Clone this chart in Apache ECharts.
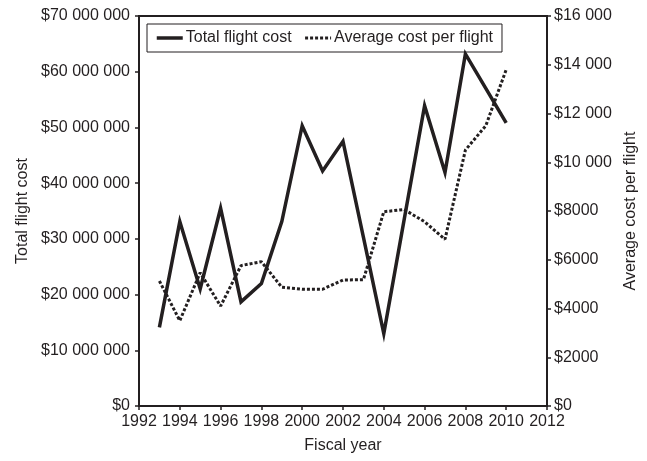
<!DOCTYPE html>
<html>
<head>
<meta charset="utf-8">
<script src="https://cdn.jsdelivr.net/npm/echarts@6/dist/echarts.min.js"></script>
<style>
    html, body { margin: 0; padding: 0; background: #fff; }
    #chart { width: 647px; height: 461px; }
</style>
</head>
<body>
<div id="chart"></div>
<script>
// fiscal years
const years = [1993, 1994, 1995, 1996, 1997, 1998, 1999, 2000, 2001, 2002, 2003, 2004, 2005, 2006, 2007, 2008, 2009, 2010]
// total flight cost, $
const totalCost = [14100000, 33100000, 21000000, 35500000, 18700000, 22000000, 33100000, 50300000, 42200000, 47500000,
    30300000, 13000000, 33500000, 53900000, 41900000, 63200000, 57000000, 50800000]
// average cost per flight, $
const avgCost = [5130, 3500, 5470, 4100, 5760, 5920, 4870, 4790, 4790, 5170, 5180, 7970, 8060, 7560, 6840, 10500, 11500, 13800]

const seriesNames = ['Total flight cost', 'Average cost per flight']

const ink = '#231f20'
const font = 'Liberation Sans, Arial, sans-serif'

const solidLine = { color: ink, width: 3.5, join: 'miter' }
const dottedLine = { color: ink, width: 3, type: [3, 2] }

// $70 000 000 / $16 000 / $8000
function money(v) {
    if (v < 10000) return '$' + v
    return '$' + String(v).replace(/\B(?=(\d{3})+(?!\d))/g, ' ')
}

const chart = echarts.init(document.getElementById('chart'))

const axisCommon = {
    axisLine: { show: true, lineStyle: { color: ink, width: 2 } },
    axisTick: { show: true, length: 4, lineStyle: { color: ink, width: 1.5 } },
    splitLine: { show: false },
    nameTextStyle: { color: ink, fontSize: 16, fontFamily: font },
}

chart.setOption({
    animation: false,
    textStyle: { fontFamily: font },
    grid: {
        left: 139, right: 100, top: 16, bottom: 55,
        show: true, borderColor: ink, borderWidth: 2,
    },
    legend: {
        data: [
            { name: seriesNames[0], lineStyle: solidLine },
            { name: seriesNames[1], lineStyle: dottedLine },
        ],
        left: 147, top: 24,
        padding: [6, 9, 6, 8],
        itemGap: 12,
        itemWidth: 26,
        itemHeight: 14,
        borderColor: ink,
        borderWidth: 1,
        // hide the marker dot, keep only the line sample
        itemStyle: { opacity: 0 },
        textStyle: { color: ink, fontSize: 16, fontFamily: font, padding: [0, 0, 0, -2] },
    },
    xAxis: {
        type: 'value',
        min: 1992, max: 2012, interval: 2,
        name: 'Fiscal year',
        nameLocation: 'middle',
        nameGap: 32,
        ...axisCommon,
        axisLabel: { color: ink, fontSize: 16, margin: 8, formatter: v => String(v) },
    },
    yAxis: [
        {
            type: 'value',
            min: 0, max: 70000000, interval: 10000000,
            name: 'Total flight cost',
            nameLocation: 'middle',
            nameRotate: 90,
            nameGap: 103,
            ...axisCommon,
            axisLabel: { color: ink, fontSize: 16, margin: 9, formatter: money },
        },
        {
            type: 'value',
            position: 'right',
            min: 0, max: 16000, interval: 2000,
            name: 'Average cost per flight',
            nameLocation: 'middle',
            nameRotate: 90,
            nameGap: 72,
            ...axisCommon,
            axisLabel: { color: ink, fontSize: 16, margin: 7, formatter: money },
        },
    ],
    series: [
        {
            name: seriesNames[0],
            type: 'line',
            yAxisIndex: 0,
            symbol: 'none',
            data: years.map((y, i) => [y, totalCost[i]]),
            lineStyle: solidLine,
            itemStyle: { color: ink },
        },
        {
            name: seriesNames[1],
            type: 'line',
            yAxisIndex: 1,
            symbol: 'none',
            data: years.map((y, i) => [y, avgCost[i]]),
            lineStyle: dottedLine,
            itemStyle: { color: ink },
        },
    ],
})
</script>
</body>
</html>
